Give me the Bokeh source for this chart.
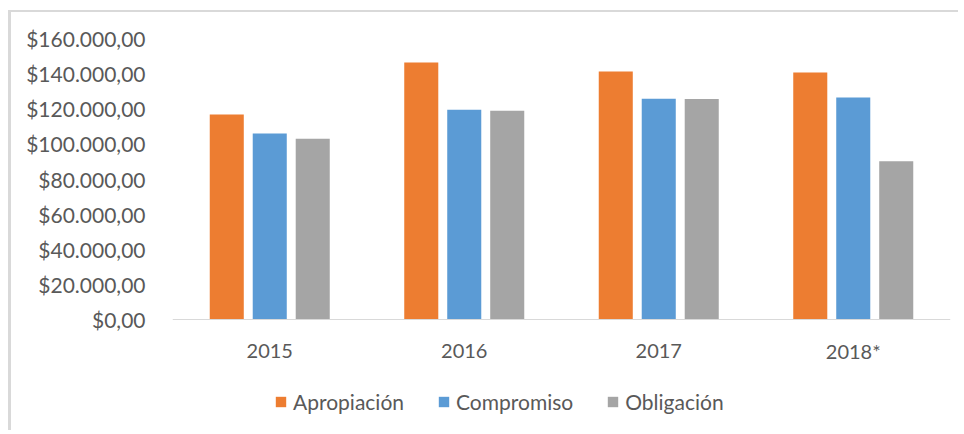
from bokeh.plotting import figure
from bokeh.models import (ColumnDataSource, FactorRange, Range1d, FixedTicker,
                          CustomJSTickFormatter, Legend, LegendItem, Span)
from bokeh.core.properties import value
from bokeh.transform import dodge
from bokeh.embed import file_html
from bokeh.resources import INLINE

years = ["2015", "2016", "2017", "2018*"]
apropiacion = [116700, 146300, 141200, 140600]
compromiso = [105900, 119400, 125700, 126400]
obligacion = [102900, 118800, 125600, 90100]
series_names = ["Apropiación", "Compromiso", "Obligación"]
series_colors = ["#ED7D31", "#5B9BD5", "#A5A5A5"]
y_ticks = [0, 20000, 40000, 60000, 80000, 100000, 120000, 140000, 160000]

src = ColumnDataSource(dict(years=years, a=apropiacion, c=compromiso, o=obligacion))

FONT = "Lato"
TXT = "#595959"

# frame: 392 px tall; value axis 0..160000 occupies the top 281 px,
# the rest below holds category labels and the legend
y_top = 160000
y_bottom = -y_top * 111 / 281

p = figure(x_range=FactorRange(*years, range_padding=0), y_range=Range1d(y_bottom, y_top),
           width=950, height=420, output_backend="svg", toolbar_location=None,
           min_border_left=161, min_border_right=11, min_border_top=26, min_border_bottom=2)
p.styles = {"border-left": "3px solid #d9d9d9", "border-top": "2px solid #d9d9d9",
            "margin-left": "8px", "margin-top": "10px"}
p.outline_line_color = None
p.xgrid.visible = False
p.ygrid.visible = False
p.xaxis.visible = False

renderers = []
for field, off, col in zip(["a", "c", "o"], [-0.221, 0.0, 0.221], series_colors):
    r = p.vbar(x=dodge("years", off, range=p.x_range), top=field, width=0.175,
               source=src, fill_color=col, line_color=None)
    renderers.append(r)

p.add_layout(Span(location=0, dimension="width", line_color="#d9d9d9", line_width=1))

p.text(x="years", y=0, text="years", source=src, y_offset=31,
       text_align="center", text_baseline="middle",
       text_font=value(FONT), text_font_size="20px", text_color=TXT)

p.yaxis.ticker = FixedTicker(ticks=y_ticks)
p.yaxis.formatter = CustomJSTickFormatter(code="""
const s = Math.round(tick).toString().replace(/\\B(?=(\\d{3})+(?!\\d))/g, ".");
return "$" + s + ",00";
""")
p.yaxis.axis_line_color = None
p.yaxis.major_tick_line_color = None
p.yaxis.minor_tick_line_color = None
p.yaxis.major_tick_out = 0
p.yaxis.major_label_standoff = 27
p.yaxis.major_label_text_font = FONT
p.yaxis.major_label_text_font_size = "21px"
p.yaxis.major_label_text_color = TXT

legend = Legend(items=[LegendItem(label=n, renderers=[r]) for n, r in zip(series_names, renderers)],
                orientation="horizontal", location=(102, 16),
                glyph_width=13, glyph_height=13, label_standoff=6, spacing=33,
                padding=0, margin=0, border_line_color=None, background_fill_alpha=0,
                label_text_font=FONT, label_text_font_size="21px", label_text_color=TXT)
p.add_layout(legend, "center")

open("out.html", "w").write(file_html(p, INLINE))
